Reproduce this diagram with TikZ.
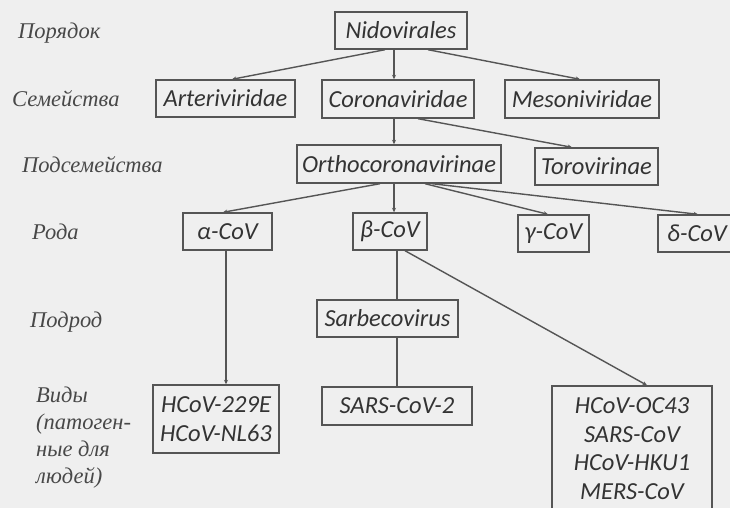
\documentclass[tikz,border=0pt]{standalone}
\usepackage{fontspec}
\setmainfont{Liberation Serif}
\newfontfamily\boxfont{Carlito}
\usetikzlibrary{arrows.meta,calc}
\definecolor{bg}{HTML}{EFEFEF}
\definecolor{ink}{HTML}{333333}
\definecolor{rankink}{HTML}{484848}
\definecolor{edge}{HTML}{555555}
\begin{document}
\begin{tikzpicture}[x=1pt,y=-1pt,
  taxon/.style={draw=edge, line width=1.4pt, text=ink, font=\boxfont\itshape\fontsize{24.5}{29}\selectfont, inner sep=0pt, align=center},
  taxtext/.style={text=ink, font=\boxfont\itshape\fontsize{24.5}{28.5}\selectfont, inner sep=0pt, align=center},
  rank/.style={anchor=west, text=rankink, font=\itshape\fontsize{22.5}{27}\selectfont, inner sep=0pt, align=left},
  link/.style={draw=edge, line width=1.4pt, -{Stealth[length=4.5pt,width=4pt]}},
  plainlink/.style={draw=edge, line width=1.4pt}]
\useasboundingbox (0,0) rectangle (730,508);
\clip (0,0) rectangle (730,508);
\fill[bg] (0,0) rectangle (730,508);

% rank labels
\node[rank] (r1) at (18,33) {Порядок};
\node[rank] (r2) at (12,99) {Семейства};
\node[rank] (r3) at (22,165) {Подсемейства};
\node[rank] (r4) at (32,232) {Рода};
\node[rank] (r5) at (30,322) {Подрод};
\node[rank] (r6) at (36,438) {Виды\\(патоген-\\ные для\\людей)};

% taxa
\node[taxon, minimum width=132pt, minimum height=37pt] (nid) at (401,30.5) {Nidovirales};
\node[taxon, minimum width=139pt, minimum height=37pt] (art) at (225.5,98.5) {Arteriviridae};
\node[taxon, minimum width=152pt, minimum height=38pt] (cor) at (398,99) {Coronaviridae};
\node[taxon, minimum width=154pt, minimum height=38pt] (mes) at (582,99) {Mesoniviridae};
\node[taxon, minimum width=204pt, minimum height=38pt] (ort) at (399,164) {Orthocoronavirinae};
\node[taxon, minimum width=123pt, minimum height=37pt] (tor) at (596.5,166.5) {Torovirinae};
\node[taxon, minimum width=89pt, minimum height=37pt] (alp) at (227.5,231.5) {α-CoV};
\node[taxon, minimum width=74pt, minimum height=37pt] (bet) at (390,231.5) {β-CoV};
\node[taxon, minimum width=71pt, minimum height=37pt] (gam) at (553.5,233.5) {γ-CoV};
\node[taxon, minimum width=78pt, minimum height=37pt] (del) at (697,233.5) {δ-CoV};
\node[taxon, minimum width=141pt, minimum height=37pt] (sar) at (387.5,318.5) {Sarbecovirus};
\node[taxon, minimum width=126pt, minimum height=68pt] (h229) at (216,419) {HCoV-229E\\HCoV-NL63};
\node[taxon, minimum width=150pt, minimum height=38pt] (sc2) at (397,406) {SARS-CoV-2};
\node[taxon, minimum width=160pt, minimum height=140pt] (oc) at (632,456) {};
\node[taxtext] (octext) at (632,448.5) {HCoV-OC43\\SARS-CoV\\HCoV-HKU1\\MERS-CoV};

% connectors
\draw[link] ($(nid.south)+(-16,0)$) -- ($(art.north)+(6.5,0)$);
\draw[link] ($(nid.south)+(-7,0)$) -- ($(cor.north)+(-4,0)$);
\draw[link] ($(nid.south)+(27,0)$) -- ($(mes.north)+(-2,0)$);
\draw[link] ($(cor.south)+(-4,0)$) -- ($(ort.north)+(-5,0)$);
\draw[link] ($(cor.south)+(20,0)$) -- ($(tor.north)+(-24.5,0)$);
\draw[link] ($(ort.south)+(-19,0)$) -- ($(alp.north)+(-4.5,0)$);
\draw[link] ($(ort.south)+(-5,0)$) -- ($(bet.north)+(4,0)$);
\draw[link] ($(ort.south)+(26,0)$) -- ($(gam.north)+(-5.5,0)$);
\draw[link] ($(ort.south)+(33,0)$) -- ($(del.north)+(1,0)$);
\draw[link] ($(alp.south)+(-1.5,0)$) -- ($(h229.north)+(10,0)$);
\draw[plainlink] ($(bet.south)+(7,0)$) -- ($(sar.north)+(9.5,0)$);
\draw[plainlink] ($(sar.south)+(9.5,0)$) -- ($(sc2.north)+(0,0)$);
\draw[link] ($(bet.south)+(15,0)$) -- ($(oc.north)+(15,0)$);
\end{tikzpicture}
\end{document}
